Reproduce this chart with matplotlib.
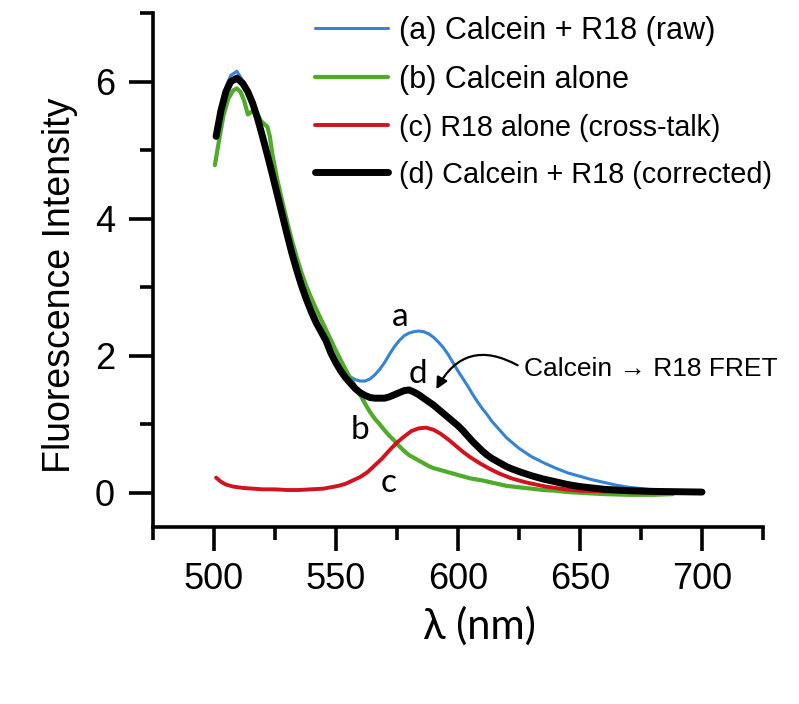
import matplotlib
matplotlib.use("Agg")
import matplotlib.pyplot as plt
from matplotlib.ticker import FixedLocator

plt.rcParams['font.family'] = ['Liberation Sans', 'DejaVu Sans']

# ---- data ----
wl_a = [501, 503, 505, 507, 509.5, 512, 514, 516, 518, 520, 522, 524, 526, 528, 530,
        532, 534, 536, 538, 540, 542, 544, 546, 548, 550, 552, 554, 556, 558, 560,
        562, 564, 566, 568, 570, 572, 574, 576, 578, 580, 582, 584, 586, 588, 590,
        592, 594, 596, 598, 600, 602, 604, 606, 608, 610, 612, 614, 616, 618, 620,
        622, 625, 630, 635, 640, 645, 650, 655, 660, 665, 670, 675, 680, 690, 700]
int_a = [5.22, 5.60, 5.92, 6.09, 6.15, 6.01, 5.87, 5.69, 5.47, 5.21, 4.94, 4.66, 4.37, 4.08, 3.79,
         3.51, 3.26, 3.03, 2.83, 2.65, 2.49, 2.36, 2.23, 2.06, 1.93, 1.82, 1.74, 1.69, 1.65, 1.63,
         1.63, 1.66, 1.72, 1.80, 1.90, 2.02, 2.13, 2.22, 2.29, 2.33, 2.35, 2.36, 2.35, 2.32, 2.27,
         2.20, 2.12, 2.02, 1.90, 1.78, 1.67, 1.56, 1.44, 1.33, 1.23, 1.14, 1.04, 0.96, 0.88, 0.80,
         0.74, 0.65, 0.53, 0.44, 0.36, 0.29, 0.24, 0.19, 0.15, 0.11, 0.08, 0.06, 0.04, 0.02, 0.01]

wl_b = [500.5, 502, 504, 506, 508, 509.5, 511, 512.5, 514, 516, 517.5, 519.5, 522, 523, 524,
        526, 528, 530, 532, 534, 536, 538, 540, 542, 544, 546, 548, 550, 552, 554,
        556, 558, 560, 562, 564, 566, 568, 570, 572, 574, 576, 578, 580, 582, 584,
        586, 588, 590, 593, 596, 600, 605, 610, 615, 620, 625, 630, 635, 640, 645,
        650, 660, 670, 680, 688]
int_b = [4.78, 5.10, 5.50, 5.75, 5.87, 5.90, 5.85, 5.72, 5.52, 5.57, 5.55, 5.42, 5.34, 5.20, 4.95,
         4.58, 4.27, 3.97, 3.69, 3.44, 3.21, 3.01, 2.84, 2.68, 2.53, 2.38, 2.23, 2.08, 1.94, 1.80,
         1.67, 1.55, 1.43, 1.30, 1.18, 1.08, 1.00, 0.91, 0.83, 0.76, 0.68, 0.61, 0.55, 0.51, 0.47,
         0.43, 0.39, 0.36, 0.33, 0.30, 0.26, 0.21, 0.18, 0.14, 0.10, 0.08, 0.06, 0.04, 0.03, 0.01,
         0.00, -0.02, -0.03, -0.03, -0.02]

wl_c = [501, 503, 505, 508, 512, 516, 520, 525, 530, 535, 540, 545, 548, 551, 554,
        557, 560, 563, 566, 569, 572, 575, 578, 581, 584, 587, 590, 593, 596, 599,
        602, 605, 609, 613, 617, 622, 628, 636, 644, 650, 660, 670, 685, 700]
int_c = [0.22, 0.16, 0.12, 0.09, 0.07, 0.06, 0.05, 0.05, 0.04, 0.04, 0.05, 0.06, 0.08, 0.10, 0.13,
         0.18, 0.23, 0.30, 0.40, 0.50, 0.62, 0.73, 0.82, 0.90, 0.94, 0.95, 0.92, 0.86, 0.78, 0.69,
         0.60, 0.52, 0.43, 0.35, 0.28, 0.21, 0.15, 0.09, 0.05, 0.03, 0.02, 0.01, 0.00, 0.00]

wl_d = [501, 503, 505, 507, 509.5, 512, 514, 516, 518, 520, 522, 524, 526, 528, 530,
        532, 534, 536, 538, 540, 542, 544, 546, 548, 550, 552, 554, 556, 558, 560,
        562, 564, 566, 568, 570, 572, 574, 576, 578, 580, 582, 584, 586, 588, 590,
        592, 594, 596, 598, 600, 602, 604, 606, 608, 610, 612, 614, 616, 618, 620,
        622, 625, 630, 635, 640, 645, 650, 655, 660, 665, 670, 680, 690, 700]
int_d = [5.20, 5.58, 5.85, 6.00, 6.05, 5.97, 5.85, 5.68, 5.46, 5.20, 4.93, 4.65, 4.36, 4.07, 3.78,
         3.50, 3.25, 3.02, 2.82, 2.64, 2.48, 2.35, 2.22, 2.04, 1.90, 1.78, 1.68, 1.60, 1.52, 1.46,
         1.42, 1.39, 1.38, 1.38, 1.38, 1.40, 1.43, 1.46, 1.49, 1.50, 1.47, 1.43, 1.38, 1.33, 1.28,
         1.22, 1.16, 1.10, 1.04, 0.98, 0.91, 0.83, 0.75, 0.68, 0.61, 0.55, 0.50, 0.46, 0.42, 0.38,
         0.35, 0.31, 0.25, 0.20, 0.16, 0.12, 0.09, 0.07, 0.05, 0.04, 0.03, 0.02, 0.015, 0.01]

labels = ["(a) Calcein + R18 (raw)", "(b) Calcein alone",
          "(c) R18 alone (cross-talk)", "(d) Calcein + R18 (corrected)"]
colors = ["#3384d4", "#4fab2a", "#d2121c", "#000000"]
widths = [2.2, 3.0, 2.8, 5.0]
legend_sizes = [22, 22, 20.6, 20.8]

x_major = [500, 550, 600, 650, 700]
x_minor = [475, 525, 575, 625, 675, 725]
y_major = [0, 2, 4, 6]
y_minor = [1, 3, 5, 7]

# ---- figure ----
fig = plt.figure(figsize=(7.99, 7.04), dpi=100)
ax = fig.add_axes([0.191, 0.2514, 0.764, 0.7301])

series = [(wl_a, int_a), (wl_b, int_b), (wl_c, int_c), (wl_d, int_d)]
handles = []
for (xs, ys), lab, col, lw in zip(series, labels, colors, widths):
    h, = ax.plot(xs, ys, color=col, lw=lw, label=lab, solid_capstyle='round')
    handles.append(h)

ax.set_xlim(475, 725)
ax.set_ylim(-0.5, 7)
for s in ['top', 'right']:
    ax.spines[s].set_visible(False)
for s in ['left', 'bottom']:
    ax.spines[s].set_linewidth(2.6)

ax.xaxis.set_major_locator(FixedLocator(x_major))
ax.xaxis.set_minor_locator(FixedLocator(x_minor))
ax.yaxis.set_major_locator(FixedLocator(y_major))
ax.yaxis.set_minor_locator(FixedLocator(y_minor))
ax.tick_params(which='major', direction='out', length=17, width=2.6, labelsize=26, pad=8)
ax.tick_params(which='minor', direction='out', length=9.5, width=2.6)
ax.tick_params(axis='y', which='major', pad=10)

ax.set_xlabel("λ (nm)", fontsize=30, family=['Lato', 'DejaVu Sans'], va='top')
ax.xaxis.set_label_coords(0.535, -0.155)
ax.set_ylabel("Fluorescence Intensity", fontsize=27)
ax.yaxis.set_label_coords(-0.122, 0.47)

leg = ax.legend(handles=handles, loc='upper left',
                bbox_to_anchor=(315 / 799, 1 - 16 / 704),
                bbox_transform=fig.transFigure, frameon=False, fontsize=22,
                handlelength=2.4, handletextpad=0.35, labelspacing=0.62,
                borderpad=0, borderaxespad=0)
for t, fs in zip(leg.get_texts(), legend_sizes):
    t.set_fontsize(fs)

# curve letters
letter_font = dict(fontsize=24, family=['Lato', 'DejaVu Sans'], ha='center', va='center')
ax.text(576.2, 2.56, "a", **letter_font)
ax.text(559.8, 0.92, "b", **letter_font)
ax.text(571.8, 0.14, "c", **letter_font)
ax.text(583.7, 1.73, "d", **letter_font)

# FRET annotation
ax.text(627.3, 1.80, "Calcein → R18 FRET", fontsize=19, ha='left', va='center',
        family=['Liberation Sans', 'DejaVu Sans'])
ax.annotate("", xy=(591.2, 1.51), xytext=(624.5, 1.86),
            arrowprops=dict(arrowstyle='-|>', connectionstyle='arc3,rad=0.5',
                            lw=1.6, color='black', mutation_scale=17,
                            shrinkA=0, shrinkB=0))

fig.savefig("out.png", dpi=100)
